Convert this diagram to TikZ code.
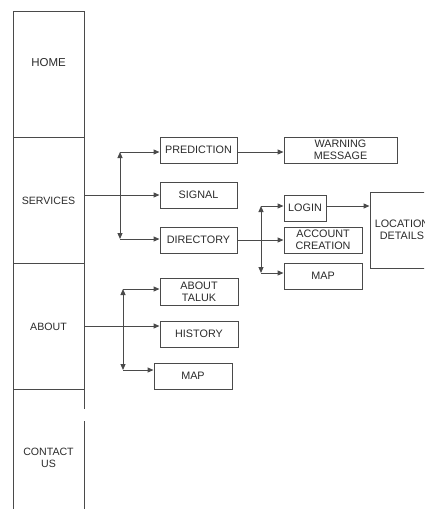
\documentclass[tikz,border=0pt]{standalone}
\usepackage{fontspec}
\setmainfont{Liberation Sans}
\usetikzlibrary{arrows.meta}
\definecolor{ln}{HTML}{4A4A4A}
\definecolor{tx}{HTML}{2A2A2A}
\tikzset{
  box/.style={draw=ln, line width=1pt, minimum height=26pt, inner sep=0pt, align=center, text=tx, font=\fontsize{10.8}{12}\selectfont},
  cell/.style={inner sep=0pt, align=center, text=tx, font=\fontsize{10.6}{12}\selectfont},
  wire/.style={draw=ln, line width=1pt},
  arr/.style={wire, -{Triangle[length=6pt,width=5pt]}},
  darr/.style={wire, {Triangle[length=6pt,width=5pt]}-{Triangle[length=6pt,width=5pt]}}
}
\begin{document}
\begin{tikzpicture}[x=1pt,y=-1pt]
\useasboundingbox (0,0) rectangle (424,509);
\clip (0,0) rectangle (424,509);
% left column
\draw[wire] (13,509) -- (13,11) -- (84,11) -- (84,409);
\draw[wire] (84,421) -- (84,509);
\draw[wire] (13,137) -- (84,137);
\draw[wire] (13,263) -- (84,263);
\draw[wire] (13,389) -- (84,389);
\node[cell, font=\fontsize{11.5}{12}\selectfont] (home) at (48.5,63) {HOME};
\node[cell] (services) at (48.5,201) {SERVICES};
\node[cell] (about) at (48.5,327) {ABOUT};
\node[cell] (contact) at (48.5,458) {CONTACT\\US};
% services boxes
\node[box, minimum width=77pt] (pred) at (198.5,150) {PREDICTION};
\node[box, minimum width=113pt] (warn) at (340.5,150) {WARNING\\MESSAGE};
\node[box, minimum width=77pt] (signal) at (198.5,195) {SIGNAL};
\node[box, minimum width=77pt] (dir) at (198.5,240) {DIRECTORY};
\node[box, minimum width=42pt] (login) at (305,208) {LOGIN};
\node[box, minimum width=78pt] (acct) at (323,240) {ACCOUNT\\CREATION};
\node[box, minimum width=78pt] (dmap) at (323,276) {MAP};
\node[box, minimum width=64pt, minimum height=76pt] (loc) at (402,230) {LOCATION\\DETAILS};
% about boxes
\node[box, minimum width=78pt, minimum height=27pt] (taluk) at (199,291.5) {ABOUT\\TALUK};
\node[box, minimum width=78pt] (hist) at (199,334) {HISTORY};
\node[box, minimum width=78pt] (amap) at (193,376) {MAP};
% services connectors
\coordinate (sstart) at (84,195);
\coordinate (st) at (120,152);
\coordinate (sb) at (120,239);
\draw[arr] (sstart) -- (signal.west |- sstart);
\draw[darr] (st) -- (sb);
\draw[arr] (st) -- (pred.west |- st);
\draw[arr] (sb) -- (dir.west |- sb);
\draw[arr] (pred.east |- st) -- (warn.west |- st);
% directory connectors
\coordinate (dt) at (261,206);
\coordinate (db) at (261,273);
\draw[arr] (dir.east) -- (acct.west);
\draw[darr] (dt) -- (db);
\draw[arr] (dt) -- (login.west |- dt);
\draw[arr] (db) -- (dmap.west |- db);
\draw[arr] (login.east |- dt) -- (loc.west |- dt);
% about connectors
\coordinate (astart) at (84,326);
\coordinate (at) at (123,289);
\coordinate (ab) at (123,370);
\draw[arr] (astart) -- (hist.west |- astart);
\draw[darr] (at) -- (ab);
\draw[arr] (at) -- (taluk.west |- at);
\draw[arr] (ab) -- (amap.west |- ab);
\end{tikzpicture}
\end{document}
